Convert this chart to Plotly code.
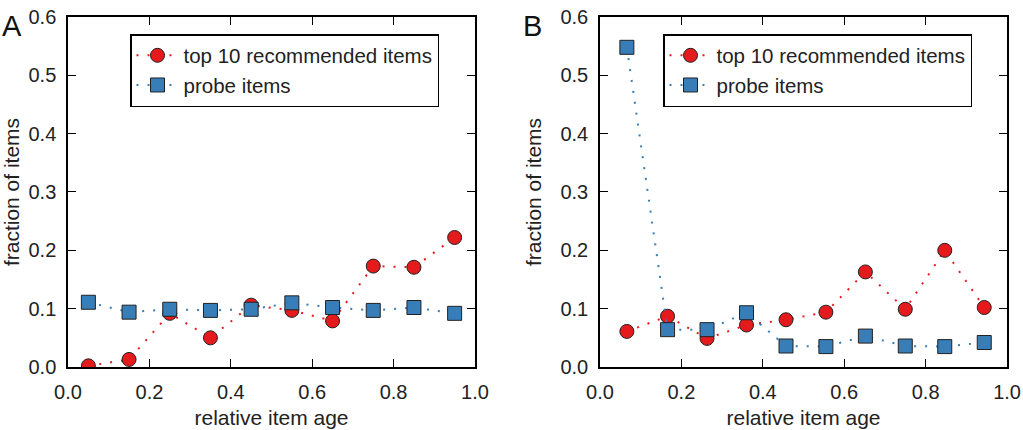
import plotly.graph_objects as go

# ---- data ----
x_a = [0.05, 0.15, 0.25, 0.35, 0.45, 0.55, 0.65, 0.75, 0.85, 0.95]
rec_a = [0.002, 0.013, 0.092, 0.050, 0.106, 0.097, 0.079, 0.173, 0.171, 0.222]
probe_a = [0.111, 0.094, 0.099, 0.097, 0.099, 0.110, 0.102, 0.097, 0.102, 0.092]

x_b = [0.066, 0.166, 0.263, 0.360, 0.457, 0.555, 0.652, 0.750, 0.847, 0.944]
rec_b = [0.061, 0.087, 0.049, 0.072, 0.081, 0.094, 0.163, 0.099, 0.200, 0.102]
probe_b = [0.548, 0.064, 0.064, 0.093, 0.036, 0.035, 0.053, 0.036, 0.035, 0.042]

labels = ["top 10 recommended items", "probe items"]
x_ticks = [0.0, 0.2, 0.4, 0.6, 0.8, 1.0]
y_ticks = [0.0, 0.1, 0.2, 0.3, 0.4, 0.5, 0.6]

RED = "#e41a1c"
BLUE = "#377eb8"
FONT = "Liberation Sans, Arial, Helvetica, sans-serif"

fig = go.Figure()

def add_pair(x, rec, probe, xa, ya, leg):
    fig.add_trace(go.Scatter(
        x=x, y=rec, mode="lines+markers", name=labels[0],
        line=dict(color=RED, width=2, dash="2px,9px"),
        marker=dict(symbol="circle", size=14, color=RED,
                    line=dict(color="#222222", width=1)),
        xaxis=xa, yaxis=ya, legend=leg, legendgroup=leg + "r"))
    fig.add_trace(go.Scatter(
        x=x, y=probe, mode="lines+markers", name=labels[1],
        line=dict(color=BLUE, width=2, dash="2px,9px"),
        marker=dict(symbol="square", size=14, color=BLUE,
                    line=dict(color="#222222", width=1)),
        xaxis=xa, yaxis=ya, legend=leg, legendgroup=leg + "b"))

add_pair(x_a, rec_a, probe_a, "x", "y", "legend")
add_pair(x_b, rec_b, probe_b, "x2", "y2", "legend2")

axis_common = dict(
    showline=True, linewidth=1.5, linecolor="black", mirror="ticks",
    ticks="inside", ticklen=8, tickwidth=1, tickcolor="black",
    showgrid=False, zeroline=False, tickformat=".1f", automargin=False,
    tickfont=dict(family=FONT, size=20, color="#222222"),
    ticklabelstandoff=6,
)

xdom_a = [0.0665, 0.4643]
xdom_b = [0.5865, 0.9844]
ydom = [0.1465, 0.9605]

legend_common = dict(
    y=1 - 34 / 430, xanchor="left", yanchor="top",
    bordercolor="black", borderwidth=1.5, bgcolor="white",
    font=dict(family=FONT, size=20.5, color="#222222"),
    tracegroupgap=0, itemwidth=42,
)

fig.update_layout(
    width=1023, height=430,
    margin=dict(l=0, r=0, t=0, b=0, autoexpand=False),
    paper_bgcolor="white", plot_bgcolor="white",
    font=dict(family=FONT, size=20, color="#222222"),
    xaxis=dict(domain=xdom_a, range=[0, 1], tickvals=x_ticks, anchor="y",
               title=dict(text="relative item age", standoff=9,
                          font=dict(size=21)), **axis_common),
    yaxis=dict(domain=ydom, range=[0, 0.6], tickvals=y_ticks, anchor="x",
               title=dict(text="fraction of items", standoff=15,
                          font=dict(size=21)), **axis_common),
    xaxis2=dict(domain=xdom_b, range=[0, 1], tickvals=x_ticks, anchor="y2",
                title=dict(text="relative item age", standoff=9,
                           font=dict(size=21)), **axis_common),
    yaxis2=dict(domain=ydom, range=[0, 0.6], tickvals=y_ticks, anchor="x2",
                title=dict(text="fraction of items", standoff=13,
                           font=dict(size=21)), **axis_common),
    legend=dict(x=130 / 1023, **legend_common),
    legend2=dict(x=663 / 1023, **legend_common),
    showlegend=True,
    annotations=[
        dict(text="A", x=0, y=1 - 8 / 430, xref="paper", yref="paper",
             xanchor="left", yanchor="top", showarrow=False,
             font=dict(family=FONT, size=29, color="#111111")),
        dict(text="B", x=521 / 1023, y=1 - 8 / 430, xref="paper", yref="paper",
             xanchor="left", yanchor="top", showarrow=False,
             font=dict(family=FONT, size=29, color="#111111")),
    ],
)

fig.write_html("out.html")
